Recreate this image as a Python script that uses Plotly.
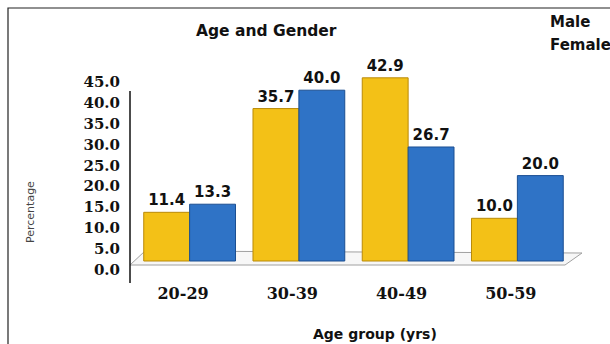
import plotly.graph_objects as go

categories = ["20-29", "30-39", "40-49", "50-59"]
male = [11.4, 35.7, 42.9, 10.0]
female = [13.3, 40.0, 26.7, 20.0]
y_ticks = [0, 5, 10, 15, 20, 25, 30, 35, 40, 45]
y_tick_text = [f"{v:.1f}" for v in y_ticks]

W, H = 610, 344
L, R, T, B = 135, 38, 60, 64
PW, PH = W - L - R, H - T - B

def px(x):
    return (x - L) / PW

def py(y):
    return (H - B - y) / PH

SANS = "DejaVu Sans"
SERIF = "DejaVu Serif"

fig = go.Figure()
fig.add_trace(go.Bar(
    x=categories, y=male, name="Male",
    marker=dict(color="#F3C117", line=dict(color="#B98A08", width=1)),
    text=[f"{v:.1f}" for v in male], textposition="outside",
    textfont=dict(family=SANS, size=15, color="#111", weight="bold"),
    cliponaxis=False,
))
fig.add_trace(go.Bar(
    x=categories, y=female, name="Female",
    marker=dict(color="#2F73C6", line=dict(color="#1B4F92", width=1)),
    text=[f"{v:.1f}" for v in female], textposition="outside",
    textfont=dict(family=SANS, size=15, color="#111", weight="bold"),
    cliponaxis=False,
))
# invisible trace to carry the label axes
fig.add_trace(go.Scatter(
    x=categories, y=[0] * len(categories), xaxis="x2", yaxis="y2",
    mode="markers", marker=dict(opacity=0), hoverinfo="skip", showlegend=False,
))

k_tick = (270 - 81.5) / 45.0
r0_tick = -(H - B - 270) / k_tick
k_bar = 4.27
r0_bar = -(H - B - 261) / k_bar

fig.update_layout(
    width=W, height=H,
    margin=dict(l=L, r=R, t=T, b=B),
    paper_bgcolor="white", plot_bgcolor="rgba(0,0,0,0)",
    showlegend=False,
    barmode="group", bargap=0.16, bargroupgap=0.0,
    xaxis=dict(range=[-0.5, 3.5], visible=False),
    yaxis=dict(range=[r0_bar, r0_bar + PH / k_bar], visible=False),
    xaxis2=dict(overlaying="x", anchor="y2", range=[-0.44, 3.56], type="category",
                categoryorder="array", categoryarray=categories,
                showgrid=False, zeroline=False, showline=False, ticks="",
                tickfont=dict(family=SERIF, size=16, color="#111", weight="bold"),
                ticklabelstandoff=2),
    yaxis2=dict(overlaying="y", anchor="x2", range=[r0_tick, r0_tick + PH / k_tick],
                tickvals=y_ticks, ticktext=y_tick_text,
                showgrid=False, zeroline=False, showline=False, ticks="",
                tickfont=dict(family=SERIF, size=15, color="#111", weight="bold"),
                ticklabelstandoff=14),
)

shapes = []
# outer frame
shapes.append(dict(type="rect", xref="paper", yref="paper",
                   x0=px(8), x1=px(620), y0=py(8), y1=py(360),
                   line=dict(color="#222", width=1.2), fillcolor="rgba(0,0,0,0)", layer="below"))
# floor
path = (f"M {px(130)},{py(265)} L {px(145)},{py(251)} L {px(582)},{py(253)} "
        f"L {px(565)},{py(265)} Z")
shapes.append(dict(type="path", xref="paper", yref="paper", path=path,
                   line=dict(color="#a0a0a0", width=1), fillcolor="#f7f7f7", layer="below"))
# vertical axis line
shapes.append(dict(type="line", xref="paper", yref="paper",
                   x0=px(130), x1=px(130), y0=py(91), y1=py(283),
                   line=dict(color="#111", width=1.5)))
fig.update_layout(shapes=shapes)

annotations = [
    dict(text="<b>Age and Gender</b>", x=px(266), y=py(31), xref="paper", yref="paper",
         xanchor="center", yanchor="middle", showarrow=False,
         font=dict(family=SANS, size=15.5, color="#111")),
    dict(text="<b>Male</b>", x=px(548), y=py(22), xref="paper", yref="paper",
         xanchor="left", yanchor="middle", showarrow=False,
         font=dict(family=SANS, size=15, color="#111")),
    dict(text="<b>Female</b>", x=px(548), y=py(45), xref="paper", yref="paper",
         xanchor="left", yanchor="middle", showarrow=False,
         font=dict(family=SANS, size=15, color="#111")),
    dict(text="<b>Age group (yrs)</b>", x=px(375), y=py(334), xref="paper", yref="paper",
         xanchor="center", yanchor="middle", showarrow=False,
         font=dict(family=SANS, size=14, color="#111")),
    dict(text="Percentage", x=px(30), y=py(212), xref="paper", yref="paper",
         xanchor="center", yanchor="middle", showarrow=False, textangle=-90,
         font=dict(family=SANS, size=11, color="#444")),
]
fig.update_layout(annotations=annotations)

fig.write_html("out.html")
